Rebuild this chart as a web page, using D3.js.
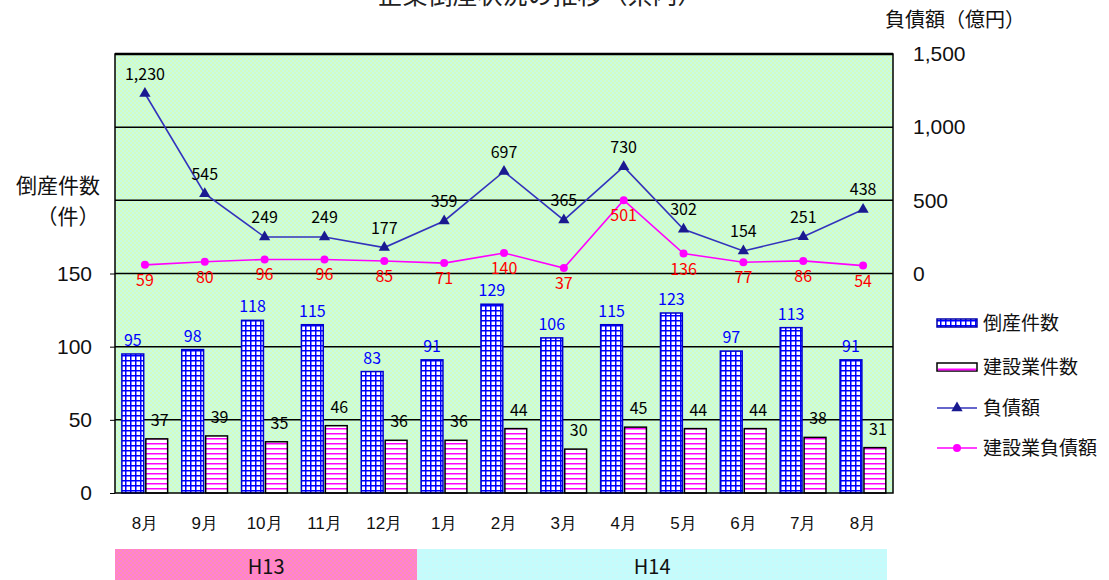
<!DOCTYPE html>
<html><head><meta charset="utf-8">
<script src="https://cdn.jsdelivr.net/npm/d3@7"></script>
<style>
html,body{margin:0;padding:0;background:#fff;}
svg{display:block;font-family:"Noto Sans CJK JP","Noto Sans",sans-serif;}
</style></head>
<body>
<svg id="chart" width="1109" height="580"></svg>
<script>
const months = ["8月","9月","10月","11月","12月","1月","2月","3月","4月","5月","6月","7月","8月"];
const years = [{label:"H13", from:0, to:4}, {label:"H14", from:5, to:12}];
const bankruptcies = [95, 98, 118, 115, 83, 91, 129, 106, 115, 123, 97, 113, 91];
const constructionCounts = [37, 39, 35, 46, 36, 36, 44, 30, 45, 44, 44, 38, 31];
const debt = [1230, 545, 249, 249, 177, 359, 697, 365, 730, 302, 154, 251, 438];
const constructionDebt = [59, 80, 96, 96, 85, 71, 140, 37, 501, 136, 77, 86, 54];
const leftTicks = [0, 50, 100, 150];
const rightTicks = [0, 500, 1000, 1500];
const gridValues = [50, 100, 150, 200, 250];
const seriesNames = ["倒産件数", "建設業件数", "負債額", "建設業負債額"];

const svg = d3.select("#chart");
const L = 115, R = 893, T = 54, B = 493;
const idx = months.map((m, i) => i);
const x = d3.scaleBand().domain(idx).range([L, R]).padding(0);
const bw = x.bandwidth();
const yL = d3.scaleLinear().domain([0, 300]).range([B, T]);
const yR = d3.scaleLinear().domain([-1500, 1500]).range([B, T]);
const cx = i => x(i) + bw / 2;
const fmt = d3.format(",");

const defs = svg.append("defs");
const bg = defs.append("pattern").attr("id", "bgpat").attr("patternUnits", "userSpaceOnUse")
  .attr("width", 4).attr("height", 4);
bg.append("rect").attr("width", 4).attr("height", 4).attr("fill", "#d4fcc0");
bg.append("rect").attr("x", 0).attr("y", 0).attr("width", 2).attr("height", 2).attr("fill", "#c8fbe4");
bg.append("rect").attr("x", 2).attr("y", 2).attr("width", 2).attr("height", 2).attr("fill", "#c8fbe4");
const gp = defs.append("pattern").attr("id", "gridpat").attr("patternUnits", "userSpaceOnUse")
  .attr("width", 5).attr("height", 5);
gp.append("rect").attr("width", 5).attr("height", 5).attr("fill", "#fff");
gp.append("rect").attr("x", 0).attr("y", 0).attr("width", 5).attr("height", 1.5).attr("fill", "#0000ff");
gp.append("rect").attr("x", 0).attr("y", 0).attr("width", 1.5).attr("height", 5).attr("fill", "#0000ff");
const hp = defs.append("pattern").attr("id", "hpat").attr("patternUnits", "userSpaceOnUse")
  .attr("width", 5).attr("height", 5);
hp.append("rect").attr("width", 5).attr("height", 5).attr("fill", "#fff");
hp.append("rect").attr("x", 0).attr("y", 3).attr("width", 5).attr("height", 1.5).attr("fill", "#ff00ff");
const pp = defs.append("pattern").attr("id", "pinkpat").attr("patternUnits", "userSpaceOnUse")
  .attr("width", 4).attr("height", 4);
pp.append("rect").attr("width", 4).attr("height", 4).attr("fill", "#ff8cb4");
pp.append("rect").attr("width", 2).attr("height", 2).attr("fill", "#ff80d8");
pp.append("rect").attr("x", 2).attr("y", 2).attr("width", 2).attr("height", 2).attr("fill", "#ff80d8");
const cp = defs.append("pattern").attr("id", "cyanpat").attr("patternUnits", "userSpaceOnUse")
  .attr("width", 4).attr("height", 4);
cp.append("rect").attr("width", 4).attr("height", 4).attr("fill", "#c4fcfc");
cp.append("rect").attr("width", 2).attr("height", 2).attr("fill", "#ccf8f8");

// title (cut off at the top as in the reference)
svg.append("text").attr("x", 540).attr("y", 4).attr("text-anchor", "middle")
  .attr("font-size", 25).attr("fill", "#222").text("企業倒産状況の推移（県内）");

svg.append("rect").attr("x", L).attr("y", T).attr("width", R - L).attr("height", B - T)
  .attr("fill", "url(#bgpat)");

svg.append("g").selectAll("line").data(gridValues).join("line")
  .attr("x1", L).attr("x2", R).attr("y1", d => yL(d)).attr("y2", d => yL(d))
  .attr("stroke", "#000").attr("stroke-width", 1.5);

svg.append("g").selectAll("rect").data(bankruptcies).join("rect")
  .attr("x", (d, i) => x(i) + bw * 0.115).attr("width", bw * 0.365)
  .attr("y", d => yL(d)).attr("height", d => B - yL(d))
  .attr("fill", "url(#gridpat)").attr("stroke", "#0000cc").attr("stroke-width", 1.5);
svg.append("g").selectAll("rect").data(constructionCounts).join("rect")
  .attr("x", (d, i) => x(i) + bw * 0.515).attr("width", bw * 0.365)
  .attr("y", d => yL(d)).attr("height", d => B - yL(d))
  .attr("fill", "url(#hpat)").attr("stroke", "#000").attr("stroke-width", 1.5);

svg.append("rect").attr("x", L).attr("y", T).attr("width", R - L).attr("height", B - T)
  .attr("fill", "none").attr("stroke", "#000").attr("stroke-width", 1.5);
svg.append("line").attr("x1", L).attr("x2", R).attr("y1", T).attr("y2", T)
  .attr("stroke", "#000").attr("stroke-width", 2.5);

svg.append("g").selectAll("text").data(bankruptcies).join("text")
  .attr("x", (d, i) => x(i) + bw * 0.115 + bw * 0.365 / 2).attr("y", d => yL(d) - 8)
  .attr("text-anchor", "middle").attr("font-size", 16).attr("fill", "#0000ff").text(d => d);
svg.append("g").selectAll("text").data(constructionCounts).join("text")
  .attr("x", (d, i) => x(i) + bw * 0.515 + bw * 0.365 / 2 + 3).attr("y", d => yL(d) - 13)
  .attr("text-anchor", "middle").attr("font-size", 16).attr("fill", "#000").text(d => d);

const lineGen = d3.line().x((d, i) => cx(i)).y(d => yR(d));
svg.append("path").datum(constructionDebt).attr("d", lineGen)
  .attr("fill", "none").attr("stroke", "#ff00ff").attr("stroke-width", 1.6);
svg.append("g").selectAll("circle").data(constructionDebt).join("circle")
  .attr("cx", (d, i) => cx(i)).attr("cy", d => yR(d)).attr("r", 4).attr("fill", "#ff00ff");
svg.append("path").datum(debt).attr("d", lineGen)
  .attr("fill", "none").attr("stroke", "#3333bb").attr("stroke-width", 1.6);
const tri = d3.symbol().type(d3.symbolTriangle).size(55);
svg.append("g").selectAll("path").data(debt).join("path")
  .attr("d", tri).attr("transform", (d, i) => `translate(${cx(i)},${yR(d)})`)
  .attr("fill", "#1a1a90");

svg.append("g").selectAll("text").data(debt).join("text")
  .attr("x", (d, i) => cx(i)).attr("y", d => yR(d) - 14)
  .attr("text-anchor", "middle").attr("font-size", 16).attr("fill", "#000").text(d => fmt(d));
svg.append("g").selectAll("text").data(constructionDebt).join("text")
  .attr("x", (d, i) => cx(i)).attr("y", d => yR(d) + 21)
  .attr("text-anchor", "middle").attr("font-size", 16).attr("fill", "#ff0000").text(d => d);

const leftAxis = d3.axisLeft(yL).tickValues(leftTicks).tickSize(5).tickPadding(18).tickFormat(d3.format("d"));
const ga = svg.append("g").attr("transform", `translate(${L},0)`).call(leftAxis);
ga.select(".domain").remove();
ga.selectAll("line").attr("stroke", "#000");
ga.selectAll("text").attr("font-size", 21).attr("fill", "#111").attr("font-family", "inherit");

const rightAxis = d3.axisRight(yR).tickValues(rightTicks).tickSize(0).tickPadding(20).tickFormat(fmt);
const gr = svg.append("g").attr("transform", `translate(${R},0)`).call(rightAxis);
gr.select(".domain").remove();
gr.selectAll("text").attr("font-size", 21).attr("fill", "#111").attr("font-family", "inherit");

svg.append("text").attr("x", 58).attr("y", 193).attr("text-anchor", "middle")
  .attr("font-size", 21).attr("fill", "#111").text("倒産件数");
svg.append("text").attr("x", 68).attr("y", 224).attr("text-anchor", "middle")
  .attr("font-size", 21).attr("fill", "#111").text("（件）");
svg.append("text").attr("x", 955).attr("y", 27).attr("text-anchor", "middle")
  .attr("font-size", 20).attr("fill", "#111").text("負債額（億円）");

const xAxis = d3.axisBottom(x).tickSize(0).tickPadding(24).tickFormat(i => months[i]);
const gx = svg.append("g").attr("transform", `translate(0,${B})`).call(xAxis);
gx.select(".domain").remove();
gx.selectAll("text").attr("font-size", 17).attr("fill", "#111").attr("font-family", "inherit");

const bandY = 549, bandH = 31;
years.forEach((yr, k) => {
  const x1 = k === years.length - 1 ? x(yr.to) + bw - 6 : x(yr.to) + bw + 3;
  const xs = k === 0 ? x(yr.from) : x(yr.from) + 3;
  svg.append("rect").attr("x", xs).attr("y", bandY).attr("width", x1 - xs).attr("height", bandH)
    .attr("fill", k === 0 ? "url(#pinkpat)" : "url(#cyanpat)");
  svg.append("text").attr("x", (xs + x1) / 2).attr("y", bandY + 25).attr("text-anchor", "middle")
    .attr("font-size", 20).attr("fill", "#111").text(yr.label);
});

const lg = svg.append("g");
const lx = 937, lys = [323, 367, 408, 448];
lg.append("rect").attr("x", lx).attr("y", lys[0] - 4).attr("width", 40).attr("height", 8)
  .attr("fill", "url(#gridpat)").attr("stroke", "#0000aa").attr("stroke-width", 1.5);
lg.append("rect").attr("x", lx).attr("y", lys[1] - 4).attr("width", 40).attr("height", 8)
  .attr("fill", "#fff").attr("stroke", "#000").attr("stroke-width", 1.5);
lg.append("line").attr("x1", lx + 1).attr("x2", lx + 39).attr("y1", lys[1] + 2.5).attr("y2", lys[1] + 2.5)
  .attr("stroke", "#ff00ff").attr("stroke-width", 2);
lg.append("line").attr("x1", lx).attr("x2", lx + 40).attr("y1", lys[2]).attr("y2", lys[2])
  .attr("stroke", "#3333bb").attr("stroke-width", 1.6);
lg.append("path").attr("d", tri).attr("transform", `translate(${lx + 20},${lys[2]})`).attr("fill", "#1a1a90");
lg.append("line").attr("x1", lx).attr("x2", lx + 40).attr("y1", lys[3]).attr("y2", lys[3])
  .attr("stroke", "#ff00ff").attr("stroke-width", 1.6);
lg.append("circle").attr("cx", lx + 20).attr("cy", lys[3]).attr("r", 4).attr("fill", "#ff00ff");
lg.selectAll("text").data(seriesNames).join("text")
  .attr("x", lx + 46).attr("y", (d, i) => lys[i] + 7)
  .attr("font-size", 19).attr("fill", "#111").text(d => d);
</script>
</body></html>
